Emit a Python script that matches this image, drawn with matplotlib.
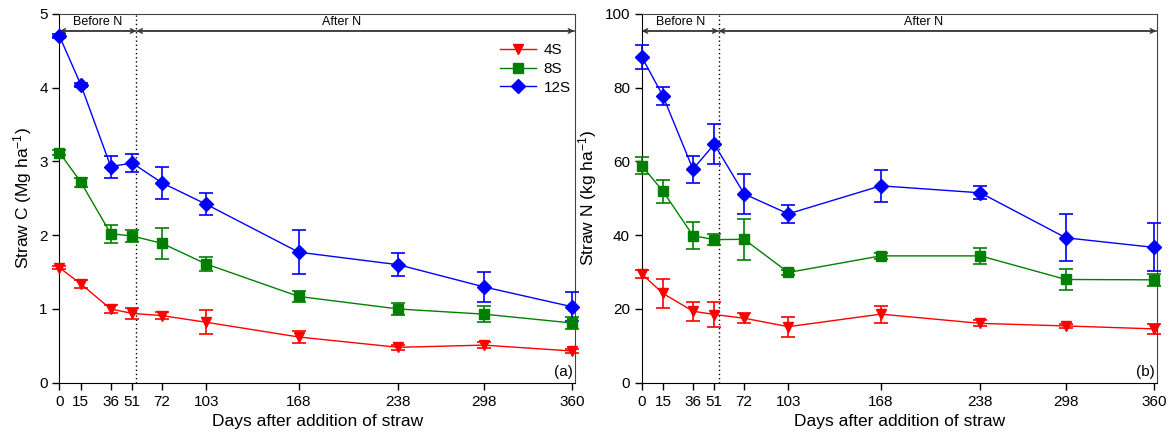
import numpy as np
import matplotlib
matplotlib.use('Agg')
import matplotlib.pyplot as plt

plt.rcParams['font.family'] = ['Liberation Sans', 'DejaVu Sans']
plt.rcParams['mathtext.fontset'] = 'custom'
plt.rcParams['mathtext.rm'] = 'Liberation Sans'
plt.rcParams['mathtext.it'] = 'Liberation Sans:italic'
plt.rcParams['axes.unicode_minus'] = False

days = [0, 15, 36, 51, 72, 103, 168, 238, 298, 360]
tick_days = [0, 15, 36, 51, 72, 103, 168, 238, 298, 360]
series_names = ['4S', '8S', '12S']

# straw C (Mg ha-1)
c_4s = [1.56, 1.34, 1.00, 0.94, 0.91, 0.82, 0.62, 0.48, 0.51, 0.43]
c_4s_err = [0.02, 0.05, 0.05, 0.08, 0.05, 0.16, 0.08, 0.03, 0.04, 0.03]
c_8s = [3.12, 2.72, 2.02, 1.99, 1.89, 1.61, 1.17, 1.00, 0.93, 0.81]
c_8s_err = [0.03, 0.06, 0.12, 0.08, 0.21, 0.09, 0.08, 0.075, 0.105, 0.075]
c_12s = [4.70, 4.04, 2.93, 2.98, 2.71, 2.42, 1.77, 1.60, 1.30, 1.03]
c_12s_err = [0.03, 0.03, 0.15, 0.12, 0.22, 0.15, 0.30, 0.155, 0.20, 0.195]

# straw N (kg ha-1)
n_4s = [29.5, 24.2, 19.4, 18.5, 17.5, 15.2, 18.6, 16.1, 15.4, 14.6]
n_4s_err = [1.0, 4.0, 2.6, 3.4, 1.3, 2.7, 2.3, 0.8, 0.5, 1.3]
n_8s = [58.9, 51.9, 39.9, 38.8, 38.9, 29.9, 34.4, 34.4, 28.0, 27.9]
n_8s_err = [2.2, 3.1, 3.6, 1.5, 5.5, 0.8, 0.8, 2.2, 2.8, 1.7]
n_12s = [88.4, 77.7, 57.9, 64.7, 51.2, 45.8, 53.4, 51.5, 39.3, 36.7]
n_12s_err = [3.2, 2.4, 3.7, 5.5, 5.4, 2.5, 4.4, 1.8, 6.4, 6.5]

n_day = 54  # N addition
colors = ['#ff0000', '#008000', '#0000ff']
markers = ['v', 's', 'D']


def draw_panel(ax, vals, errs, ymax, ylabel, tag, legend=False):
    lines = []
    for v, e, col, mk, name in zip(vals, errs, colors, markers, series_names):
        cont = ax.errorbar(days, v, yerr=e, color=col, marker=mk, markersize=7,
                           linewidth=1, elinewidth=1.2, capsize=5, capthick=1.2,
                           label=name, clip_on=False, zorder=3)
        lines.append(cont.lines[0])
    ax.set_xlim(0, 362)
    ax.set_ylim(0, ymax)
    ax.set_xticks(tick_days)
    ax.set_yticks(np.linspace(0, ymax, 6))
    ax.set_yticklabels([f'{t:g}' for t in np.linspace(0, ymax, 6)])
    ax.tick_params(direction='out', length=5, labelsize=11, width=1)
    ax.set_xlabel('Days after addition of straw', fontsize=12.5)
    ax.set_ylabel(ylabel, fontsize=12.5, labelpad=4)
    for s in ['top', 'right']:
        ax.spines[s].set_color('#444444')
    ax.axvline(n_day, color='k', linestyle=(0, (1, 2)), linewidth=1)

    yh = ymax * 0.954
    ax.axhline(yh, color='#555555', linewidth=1.2, zorder=1)
    ax.annotate('', xy=(0, yh), xytext=(n_day, yh),
                arrowprops=dict(arrowstyle='<->', color='#333333', lw=1,
                                shrinkA=0, shrinkB=0, mutation_scale=8))
    ax.annotate('', xy=(n_day, yh), xytext=(361.5, yh),
                arrowprops=dict(arrowstyle='<->', color='#333333', lw=1,
                                shrinkA=0, shrinkB=0, mutation_scale=8))
    ax.text(n_day / 2, ymax * 0.977, 'Before N', ha='center', va='center', fontsize=9)
    ax.text(198, ymax * 0.977, 'After N', ha='center', va='center', fontsize=9)
    ax.text(0.995, 0.01, tag, transform=ax.transAxes, ha='right', va='bottom', fontsize=11)
    if legend:
        ax.legend(lines, series_names, loc='upper right', bbox_to_anchor=(1.01, 0.945),
                  frameon=False, fontsize=11, handlelength=2.4, labelspacing=0.3,
                  borderaxespad=0.2, handletextpad=0.5)


fig = plt.figure(figsize=(11.71, 4.44), dpi=100)
ax1 = fig.add_axes([0.0508, 0.138, 0.4402, 0.8305])
ax2 = fig.add_axes([0.548, 0.138, 0.440, 0.8305])

draw_panel(ax1, [c_4s, c_8s, c_12s], [c_4s_err, c_8s_err, c_12s_err], 5,
           'Straw C (Mg ha$^{-1}$)', '(a)', legend=True)
draw_panel(ax2, [n_4s, n_8s, n_12s], [n_4s_err, n_8s_err, n_12s_err], 100,
           'Straw N (kg ha$^{-1}$)', '(b)')

fig.savefig('out.png', dpi=100)
